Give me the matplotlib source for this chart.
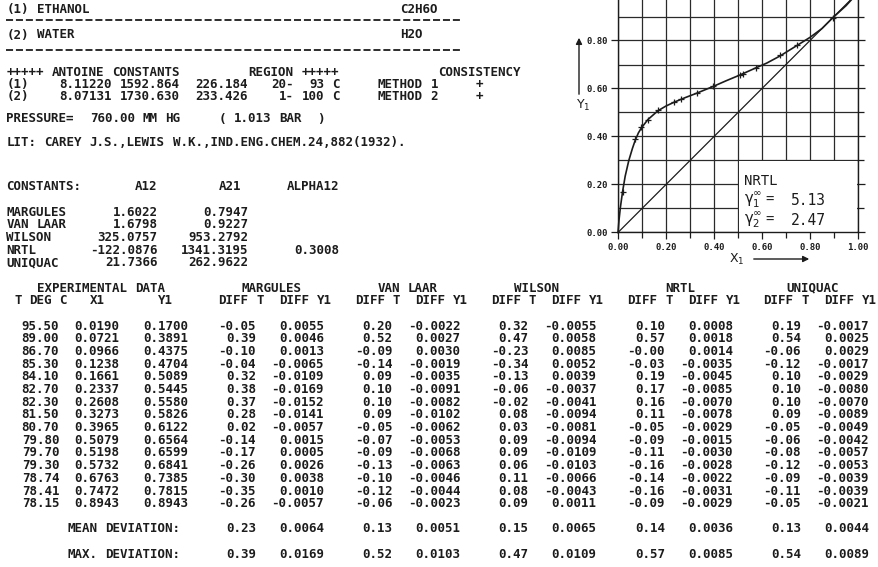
import re
import numpy as np
import matplotlib
matplotlib.use('Agg')
import matplotlib.pyplot as plt
from matplotlib.patches import Rectangle, FancyArrowPatch
from matplotlib.lines import Line2D

plt.rcParams['mathtext.default'] = 'regular'

# ---- data ----
comp1, form1 = 'ETHANOL', 'C2H6O'
comp2, form2 = 'WATER', 'H2O'
antoine1 = [8.11220, 1592.864, 226.184]
antoine2 = [8.07131, 1730.630, 233.426]
region1 = [20, 93]
region2 = [1, 100]
pressure_mmhg = 760.00
pressure_bar = 1.013
lit = 'LIT: CAREY J.S.,LEWIS W.K.,IND.ENG.CHEM.24,882(1932).'

models = ['MARGULES', 'VAN LAAR', 'WILSON', 'NRTL', 'UNIQUAC']
a12 = [1.6022, 1.6798, 325.0757, -122.0876, 21.7366]
a21 = [0.7947, 0.9227, 953.2792, 1341.3195, 262.9622]
alpha12 = [None, None, None, 0.3008, None]

t_deg = [95.50, 89.00, 86.70, 85.30, 84.10, 82.70, 82.30, 81.50, 80.70, 79.80,
         79.70, 79.30, 78.74, 78.41, 78.15]
x1 = [0.0190, 0.0721, 0.0966, 0.1238, 0.1661, 0.2337, 0.2608, 0.3273, 0.3965,
      0.5079, 0.5198, 0.5732, 0.6763, 0.7472, 0.8943]
y1 = [0.1700, 0.3891, 0.4375, 0.4704, 0.5089, 0.5445, 0.5580, 0.5826, 0.6122,
      0.6564, 0.6599, 0.6841, 0.7385, 0.7815, 0.8943]

marg_dt = [-0.05, 0.39, -0.10, -0.04, 0.32, 0.38, 0.37, 0.28, 0.02, -0.14, -0.17, -0.26, -0.30, -0.35, -0.26]
marg_dy = [0.0055, 0.0046, 0.0013, -0.0065, -0.0109, -0.0169, -0.0152, -0.0141, -0.0057, 0.0015, 0.0005, 0.0026, 0.0038, 0.0010, -0.0057]
vl_dt = [0.20, 0.52, -0.09, -0.14, 0.09, 0.10, 0.10, 0.09, -0.05, -0.07, -0.09, -0.13, -0.10, -0.12, -0.06]
vl_dy = [-0.0022, 0.0027, 0.0030, -0.0019, -0.0035, -0.0091, -0.0082, -0.0102, -0.0062, -0.0053, -0.0068, -0.0063, -0.0046, -0.0044, -0.0023]
wil_dt = [0.32, 0.47, -0.23, -0.34, -0.13, -0.06, -0.02, 0.08, 0.03, 0.09, 0.09, 0.06, 0.11, 0.08, 0.09]
wil_dy = [-0.0055, 0.0058, 0.0085, 0.0052, 0.0039, -0.0037, -0.0041, -0.0094, -0.0081, -0.0094, -0.0109, -0.0103, -0.0066, -0.0043, 0.0011]
nrtl_dt = [0.10, 0.57, -0.00, -0.03, 0.19, 0.17, 0.16, 0.11, -0.05, -0.09, -0.11, -0.16, -0.14, -0.16, -0.09]
nrtl_dy = [0.0008, 0.0018, 0.0014, -0.0035, -0.0045, -0.0085, -0.0070, -0.0078, -0.0029, -0.0015, -0.0030, -0.0028, -0.0022, -0.0031, -0.0029]
uni_dt = [0.19, 0.54, -0.06, -0.12, 0.10, 0.10, 0.10, 0.09, -0.05, -0.06, -0.08, -0.12, -0.09, -0.11, -0.05]
uni_dy = [-0.0017, 0.0025, 0.0029, -0.0017, -0.0029, -0.0080, -0.0070, -0.0089, -0.0049, -0.0042, -0.0057, -0.0053, -0.0039, -0.0039, -0.0021]

mean_dev = [0.23, 0.0064, 0.13, 0.0051, 0.15, 0.0065, 0.14, 0.0036, 0.13, 0.0044]
max_dev = [0.39, 0.0169, 0.52, 0.0103, 0.47, 0.0109, 0.57, 0.0085, 0.54, 0.0089]

# NRTL curve as drawn in the diagram
curve_x = [0.0, 0.004, 0.01, 0.019, 0.03, 0.045, 0.06, 0.072, 0.085, 0.097, 0.124,
           0.166, 0.2, 0.234, 0.28, 0.327, 0.4, 0.45, 0.51, 0.57, 0.62, 0.676,
           0.747, 0.8, 0.85, 0.894, 0.95, 1.0]
curve_y = [0.0, 0.05, 0.105, 0.17, 0.235, 0.30, 0.35, 0.385, 0.415, 0.435, 0.47,
           0.507, 0.527, 0.543, 0.562, 0.58, 0.61, 0.632, 0.657, 0.684, 0.706, 0.736,
           0.78, 0.813, 0.85, 0.894, 0.945, 1.0]
gamma_inf = [5.13, 2.47]

# ---- page setup ----
W, H = 879, 567
fig = plt.figure(figsize=(W / 100, H / 100), dpi=100)
fig.patch.set_facecolor('white')

PITCH = 7.57   # printer character pitch in px
X0 = 6.5
MONO = 'DejaVu Sans Mono'
FS = 9.0
INK = '#1c1c1c'


def line(y, s, size=FS):
    """place a fixed-width printer line token by token on the char grid"""
    for m in re.finditer(r'\S+', s):
        x = X0 + m.start() * PITCH
        fig.text(x / W, 1 - y / H, m.group(), ha='left', va='center',
                 fontsize=size, family=MONO, weight='bold', color=INK)


def dashes(y, ncol):
    fig.add_artist(Line2D([X0 / W, (X0 + ncol * PITCH) / W], [1 - y / H, 1 - y / H],
                          color=INK, lw=1.3, linestyle=(0, (3.9, 1.6))))


# header block
line(9.5, f"{'(1) ' + comp1:<52}{form1}")
dashes(20, 60)
line(35, f"{'(2) ' + comp2:<52}{form2}")
dashes(50, 60)

line(72.5, f"{'+++++ ANTOINE CONSTANTS':<32}{'REGION +++++':<25}CONSISTENCY")
for k, (ant, reg) in enumerate([(antoine1, region1), (antoine2, region2)]):
    s = (f"({k + 1}){ant[0]:11.5f}{ant[1]:9.3f}{ant[2]:9.3f}{reg[0]:5d}-{reg[1]:4d} C"
         f"{'':5}METHOD {k + 1}{'':5}+")
    line(84.5 + 12 * k, s)

line(119, f"PRESSURE= {pressure_mmhg:7.2f} MM HG     ( {pressure_bar:5.3f} BAR  )")
line(143, lit)

line(187, f"{'CONSTANTS:':<17}A12{'':8}A21{'':6}ALPHA12")
for k, name in enumerate(models):
    s = f"{name:<10}{a12[k]:10.4f}{a21[k]:12.4f}"
    if alpha12[k] is not None:
        s += f"{alpha12[k]:12.4f}"
    line(212 + 12.7 * k, s)

# table
line(288, f"{'':4}EXPERIMENTAL DATA{'':10}MARGULES{'':10}VAN LAAR{'':10}WILSON{'':14}NRTL{'':12}UNIQUAC")
line(301, " T DEG C" + f"{'X1':>5}{'Y1':>9}" + "   " + ''.join(f"{'DIFF T':>9}{'DIFF Y1':>9}" for _ in models))

cols = [marg_dt, marg_dy, vl_dt, vl_dy, wil_dt, wil_dy, nrtl_dt, nrtl_dy, uni_dt, uni_dy]
for i in range(len(t_deg)):
    s = f"{t_deg[i]:7.2f}{x1[i]:8.4f}{y1[i]:9.4f}"
    for j, c in enumerate(cols):
        s += f"{c[i]:9.2f}" if j % 2 == 0 else f"{c[i]:9.4f}"
    line(326 + 12.7 * i, s)

for y, lab, vals in [(529, 'MEAN DEVIATION:', mean_dev), (554, 'MAX. DEVIATION:', max_dev)]:
    s = f"{'':8}{lab:<16}"
    for j, v in enumerate(vals):
        s += f"{v:9.2f}" if j % 2 == 0 else f"{v:9.4f}"
    line(y, s)

# ---- x-y diagram ----
ax = fig.add_axes([618 / W, 1 - 232.5 / H, 240 / W, 240 / H])
ax.set_xlim(0, 1)
ax.set_ylim(0, 1)
major = [0.0, 0.2, 0.4, 0.6, 0.8, 1.0]
minor = [0.1, 0.3, 0.5, 0.7, 0.9]
ax.set_xticks(major)
ax.set_yticks(major[:-1])
ax.set_xticks(minor, minor=True)
ax.set_yticks(minor + [1.0], minor=True)
ax.set_xticklabels([f"{v:.2f}" for v in major])
ax.set_yticklabels([f"{v:.2f}" for v in major[:-1]])
ax.set_axisbelow(True)
ax.grid(which='both', color='#2a2a2a', lw=0.9)
for sp in ax.spines.values():
    sp.set_color(INK)
    sp.set_linewidth(1.0)
ax.tick_params(which='major', direction='out', length=5, width=0.9, color=INK,
               left=True, right=True, bottom=True, top=False, pad=2.5)
ax.tick_params(which='minor', direction='out', length=4, width=0.9, color=INK,
               left=False, right=True, bottom=True, top=False)
for lab in ax.get_xticklabels() + ax.get_yticklabels():
    lab.set_fontfamily(MONO)
    lab.set_fontweight('bold')
    lab.set_fontsize(6.5)
    lab.set_color(INK)

ax.add_patch(Rectangle((0.504, 0.004), 0.492, 0.292, facecolor='white',
                       edgecolor='none', zorder=1))
ax.plot([0, 1], [0, 1], color=INK, lw=0.9, zorder=2, clip_on=False)
ax.plot(curve_x, curve_y, color=INK, lw=1.2, zorder=3, clip_on=False)
ax.plot(x1, y1, '+', color=INK, ms=5, mew=0.9, zorder=4)

ax.text(0.525, 0.215, 'NRTL', fontsize=10, family=MONO, color=INK, va='center')
for k, g in enumerate(gamma_inf):
    yy = 0.135 - 0.083 * k
    ax.text(0.525, yy, rf'$\gamma_{k + 1}^{{\infty}}$', fontsize=10.5, color=INK, va='center')
    ax.text(0.615, yy, '=', fontsize=10, family=MONO, color=INK, va='center')
    ax.text(0.72, yy, f"{g:.2f}", fontsize=10.5, family=MONO, color=INK, va='center')

# axis labels with arrows
fig.add_artist(FancyArrowPatch((579 / W, 1 - 97 / H), (579 / W, 1 - 35 / H),
                               transform=fig.transFigure, arrowstyle='-|>',
                               mutation_scale=9, color=INK, lw=1.0))
fig.text(583 / W, 1 - 105 / H, r'$\mathrm{Y}_1$', fontsize=9, color=INK, ha='center', va='center')
fig.text(737 / W, 1 - 259 / H, r'$\mathrm{X}_1$', fontsize=9, color=INK, ha='center', va='center')
fig.add_artist(FancyArrowPatch((751 / W, 1 - 259 / H), (812 / W, 1 - 259 / H),
                               transform=fig.transFigure, arrowstyle='-|>',
                               mutation_scale=9, color=INK, lw=1.0))

fig.savefig('out.png', dpi=100, facecolor='white')
